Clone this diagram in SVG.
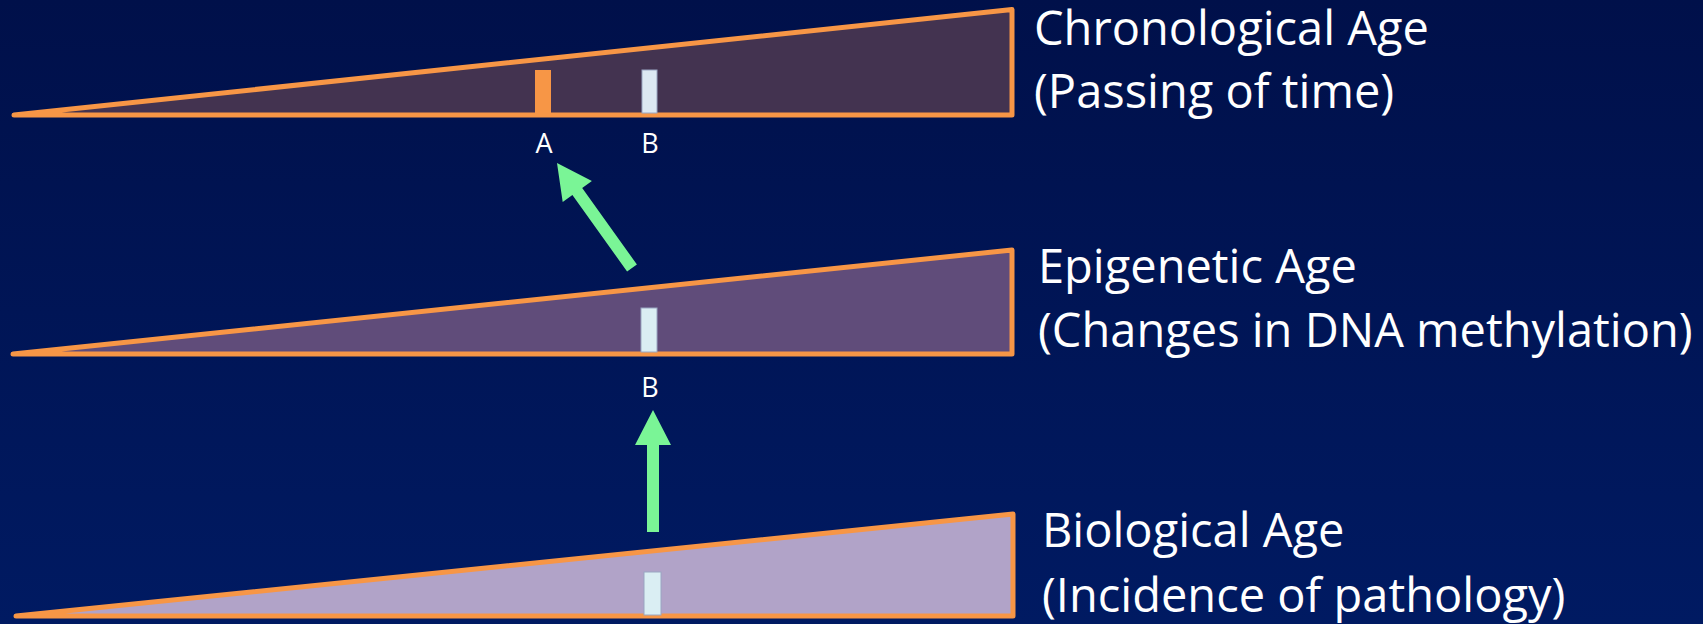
<svg xmlns="http://www.w3.org/2000/svg" width="1703" height="624" viewBox="0 0 1703 624">
  <defs>
    <linearGradient id="bg" x1="0" y1="0" x2="0" y2="1">
      <stop offset="0" stop-color="#00104A"/>
      <stop offset="1" stop-color="#001A62"/>
    </linearGradient>
    <style>
      .tri { stroke: #F79646; stroke-width: 5; stroke-linejoin: round; }
      .lbl { font-family: "Open Sans", "Noto Sans", sans-serif; font-size: 47px; fill: #FFFFFF; }
      .small { font-family: "Open Sans", "Noto Sans", sans-serif; font-size: 27px; fill: #FFFFFF; text-anchor: middle; }
      .barB { fill: #DCE8F2; stroke: #9AA6C2; stroke-width: 1; }
      .arrow { fill: #7AF596; }
    </style>
  </defs>
  <rect x="0" y="0" width="1703" height="624" fill="url(#bg)"/>

  <g id="chronological">
    <polygon class="tri" points="14,115 1012,9.5 1012,115" fill="#433350"/>
    <rect x="535" y="70" width="16" height="44" fill="#F79646"/>
    <rect class="barB" x="642" y="70" width="15" height="43"/>
    <text class="small" x="544" y="153">A</text>
    <text class="small" x="650" y="153">B</text>
    <text class="lbl" x="1034" y="45">Chronological Age</text>
    <text class="lbl" x="1034" y="108">(Passing of time)</text>
  </g>

  <g id="epigenetic">
    <polygon class="tri" points="13,354 1012,250 1012,354" fill="#604C7A"/>
    <rect class="barB" x="641" y="308" width="16" height="44" style="fill:#DAEEF3"/>
    <text class="small" x="650" y="397">B</text>
    <text class="lbl" x="1038" y="283">Epigenetic Age</text>
    <text class="lbl" x="1038" y="347">(Changes in DNA methylation)</text>
  </g>

  <g id="biological">
    <polygon class="tri" points="16,616 1013,514 1013,616" fill="#B1A3C8"/>
    <rect class="barB" x="644" y="572" width="17" height="43" style="fill:#DAEEF3"/>
    <text class="lbl" x="1042" y="547">Biological Age</text>
    <text class="lbl" x="1042" y="612">(Incidence of pathology)</text>
  </g>

  <g id="connectors">
    <polygon class="arrow" points="557,163 591.9,181 582.2,188 636.9,264.5 627.1,271.5 572.4,195 562.7,202"/>
    <polygon class="arrow" points="653,410 671,445 659,445 659,532 647,532 647,445 635,445"/>
  </g>
</svg>
